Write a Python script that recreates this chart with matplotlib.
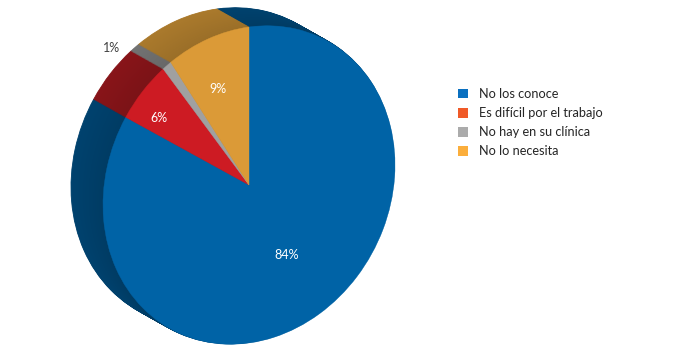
import numpy as np
import matplotlib
matplotlib.use("Agg")
import matplotlib.pyplot as plt
from matplotlib.patches import Wedge, Patch
from matplotlib.transforms import Affine2D
from matplotlib.colors import to_rgb

categorias = ["No los conoce", "Es difícil por el trabajo", "No hay en su clínica", "No lo necesita"]
valores = [84, 6, 1, 9]
etiquetas = ["84%", "6%", "1%", "9%"]

colores_cara = ["#0063a6", "#cd1b23", "#a0a0a0", "#db9a37"]
colores_lado = ["#003d66", "#7e1317", "#6a6a6a", "#9e7129"]
colores_leyenda = ["#0a70c0", "#f05a28", "#ababab", "#fbae3c"]

plt.rcParams["font.family"] = ["Lato", "DejaVu Sans"]

fig = plt.figure(figsize=(6.96, 3.56), dpi=100)
ax = fig.add_axes([0, 0, 1, 1])
ax.set_xlim(0, 696)
ax.set_ylim(356, 0)
ax.axis("off")

# circulo unidad -> cara del pastel (pixeles, y hacia abajo)
cara = Affine2D(np.array([[146.0, 0, 249], [-20, -158, 185], [0, 0, 1]]))

# angulos de cada porcion, empezando arriba y en sentido horario
grados = np.array(valores) / sum(valores) * 360
theta2 = 90 - np.concatenate([[0], np.cumsum(grados)[:-1]])
theta1 = theta2 - grados

# lado (extrusion hacia atras, arriba a la izquierda)
fondo = np.array([-32.0, -18.0])
n = 40
for k in range(n):
    f = k / n
    tr = cara + Affine2D().translate(*(fondo * (1 - f))) + ax.transData
    for i in range(len(valores)):
        c = np.clip(np.array(to_rgb(colores_lado[i])) * (1.08 - 0.1 * f), 0, 1)
        ax.add_patch(Wedge((0, 0), 1, theta1[i], theta2[i], transform=tr,
                           facecolor=c, edgecolor=c, lw=0.6))

# cara frontal
tr = cara + ax.transData
for i in range(len(valores)):
    ax.add_patch(Wedge((0, 0), 1, theta1[i], theta2[i], transform=tr,
                       facecolor=colores_cara[i], edgecolor=colores_cara[i], lw=0.3))

# etiquetas de datos (radio y giro respecto al centro de cada porcion)
radios = [0.54, 0.8, 1.36, 0.67]
giros = [0, 4, 9.5, 2.3]
for i in range(len(valores)):
    m = np.radians((theta1[i] + theta2[i]) / 2 + giros[i])
    x, y = cara.transform((radios[i] * np.cos(m), radios[i] * np.sin(m)))
    col = "#404040" if i == 2 else "white"
    ax.text(x, y, etiquetas[i], color=col, fontsize=9, ha="center", va="center")

manejadores = [Patch(facecolor=c, edgecolor="none") for c in colores_leyenda]
ax.legend(manejadores, categorias, loc="upper left", bbox_to_anchor=(0.641, 0.785),
          frameon=False, fontsize=9.2, handlelength=0.8, handleheight=0.8,
          handletextpad=0.9, labelspacing=0.55, labelcolor="#262626")

fig.savefig("out.png", dpi=100)
